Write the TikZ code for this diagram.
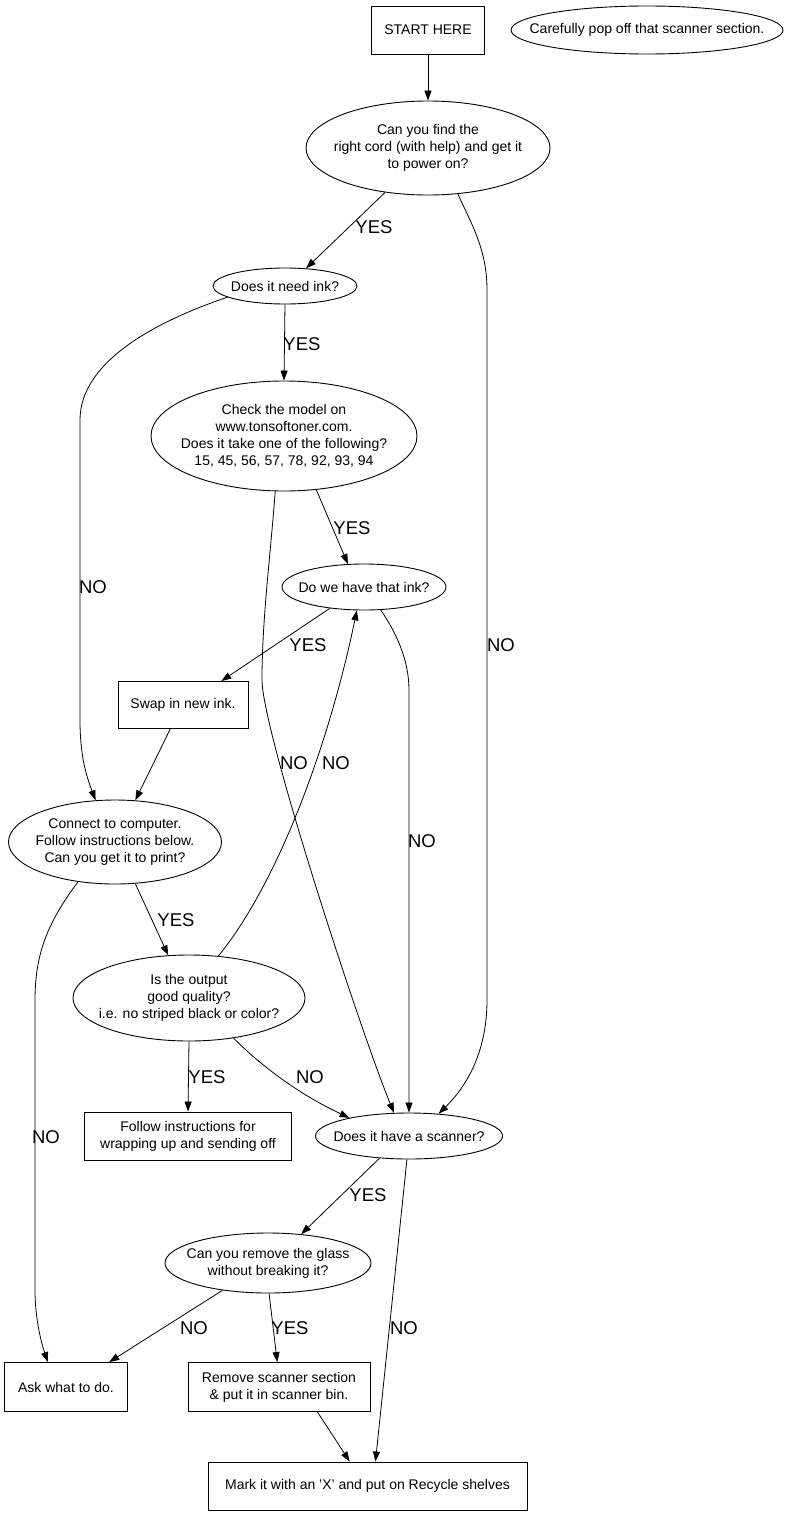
\documentclass[tikz,border=0pt]{standalone}
\usepackage{fontspec}
\setmainfont{Liberation Sans}
\usetikzlibrary{shapes.geometric,arrows.meta}
\begin{document}
\begin{tikzpicture}[x=1pt,y=-1pt,
  every node/.style={font=\fontsize{14}{17}\selectfont, inner sep=0pt},
  box/.style={draw, rectangle, line width=0.9pt, align=center},
  ell/.style={draw, ellipse, line width=0.9pt},
  txt/.style={align=center},
  lab/.style={font=\fontsize{18.5}{21}\selectfont},
  conn/.style={draw, line width=0.8pt, -{Triangle[length=10pt,width=7pt]}},
]
\useasboundingbox (0,0) rectangle (792,1515);

% nodes
\node[box, minimum width=113pt, minimum height=48pt] (start) at (428,30) {START HERE};
\node[ell, minimum width=272pt, minimum height=48pt] (pop) at (647,30) {};
\node[txt] (popt) at (pop.center) {Carefully pop off that scanner section.};
\node[ell, minimum width=244pt, minimum height=94pt] (power) at (428,148) {};
\node[txt] (powert) at (power.center) {Can you find the\\right cord (with help) and get it\\to power on?};
\node[ell, minimum width=144pt, minimum height=36pt] (needink) at (285,286) {};
\node[txt] (needinkt) at (needink.center) {Does it need ink?};
\node[ell, minimum width=266pt, minimum height=110pt] (check) at (284,436) {};
\node[txt] (checkt) at (check.center) {Check the model on\\www.tonsoftoner.com.\\Does it take one of the following?\\15, 45, 56, 57, 78, 92, 93, 94};
\node[ell, minimum width=164pt, minimum height=46pt] (haveink) at (364,587) {};
\node[txt] (haveinkt) at (haveink.center) {Do we have that ink?};
\node[box, minimum width=130pt, minimum height=47pt] (swap) at (183,705) {Swap in new ink.};
\node[ell, minimum width=213pt, minimum height=84pt] (connect) at (115,842) {};
\node[txt] (connectt) at (connect.center) {Connect to computer.\\Follow instructions below.\\Can you get it to print?};
\node[ell, minimum width=232pt, minimum height=86pt] (quality) at (189,998) {};
\node[txt] (qualityt) at (quality.center) {Is the output\\good quality?\\i.e. no striped black or color?};
\node[box, minimum width=207pt, minimum height=48pt] (follow) at (188,1136) {Follow instructions for\\wrapping up and sending off};
\node[ell, minimum width=187pt, minimum height=46pt] (scanner) at (409,1136) {};
\node[txt] (scannert) at (scanner.center) {Does it have a scanner?};
\node[ell, minimum width=206pt, minimum height=60pt] (glass) at (268,1263) {};
\node[txt] (glasst) at (glass.center) {Can you remove the glass\\without breaking it?};
\node[box, minimum width=123pt, minimum height=49pt] (ask) at (66,1387) {Ask what to do.};
\node[box, minimum width=182pt, minimum height=49pt] (remove) at (279,1387) {Remove scanner section\\\& put it in scanner bin.};
\node[box, minimum width=319pt, minimum height=48pt] (mark) at (367.5,1486) {Mark it with an 'X' and put on Recycle shelves};

% connectors
\draw[conn] (start.south) -- (power.north);
\draw[conn] (power.-134.3) -- (needink.40.9);
\draw[conn] (power.-57.6) .. controls (472,225) and (487,250) .. (487,290) -- (487,1000) .. controls (487,1050) and (468,1085) .. (scanner.37);
\draw[conn] (needink.south) -- (check.north);
\draw[conn] (needink.-169.5) .. controls (160,320) and (80,360) .. (80,420) -- (80,720) .. controls (80,760) and (88,780) .. (connect.115.9);
\draw[conn] (check.-59.9) -- (haveink.125.3);
\draw[conn] (check.-99.3) .. controls (270,560) and (262,620) .. (262,680) .. controls (262,730) and (360,1030) .. (scanner.123);
\draw[conn] (haveink.-148.4) -- (swap.32.4);
\draw[conn] (haveink.-54.7) .. controls (396,632) and (409,660) .. (409,690) -- (scanner.north);
\draw[conn] (swap.-118.9) -- (connect.64.1);
\draw[conn] (connect.-64.1) -- (quality.116.4);
\draw[conn] (connect.-133.2) .. controls (50,920) and (35,950) .. (35,1000) -- (35,1290) .. controls (35,1320) and (42,1345) .. (ask.126.3);
\draw[conn] (quality.55.1) .. controls (280,880) and (330,740) .. (haveink.-107);
\draw[conn] (quality.south) -- (follow.north);
\draw[conn] (quality.-42.9) .. controls (260,1065) and (300,1095) .. (scanner.163.2);
\draw[conn] (scanner.-143) -- (glass.41.7);
\draw[conn] (scanner.-95) -- (mark.72.6);
\draw[conn] (glass.-149.8) -- (ask.30.9);
\draw[conn] (glass.-88) -- (remove.94.7);
\draw[conn] (remove.-33.5) -- (mark.126.1);

% edge labels
\node[lab] (l1) at (374,227) {YES};
\node[lab] (l2) at (501,645) {NO};
\node[lab] (l3) at (302,344) {YES};
\node[lab] (l4) at (93,587) {NO};
\node[lab] (l5) at (352,528) {YES};
\node[lab] (l6) at (294,763) {NO};
\node[lab] (l7) at (308,645) {YES};
\node[lab] (l8) at (422,841) {NO};
\node[lab] (l9) at (336,763) {NO};
\node[lab] (l10) at (176,920) {YES};
\node[lab] (l11) at (46,1137) {NO};
\node[lab] (l12) at (207,1077) {YES};
\node[lab] (l13) at (310,1077) {NO};
\node[lab] (l14) at (368,1195) {YES};
\node[lab] (l15) at (404,1328) {NO};
\node[lab] (l16) at (194,1328) {NO};
\node[lab] (l17) at (290,1328) {YES};
\end{tikzpicture}
\end{document}
